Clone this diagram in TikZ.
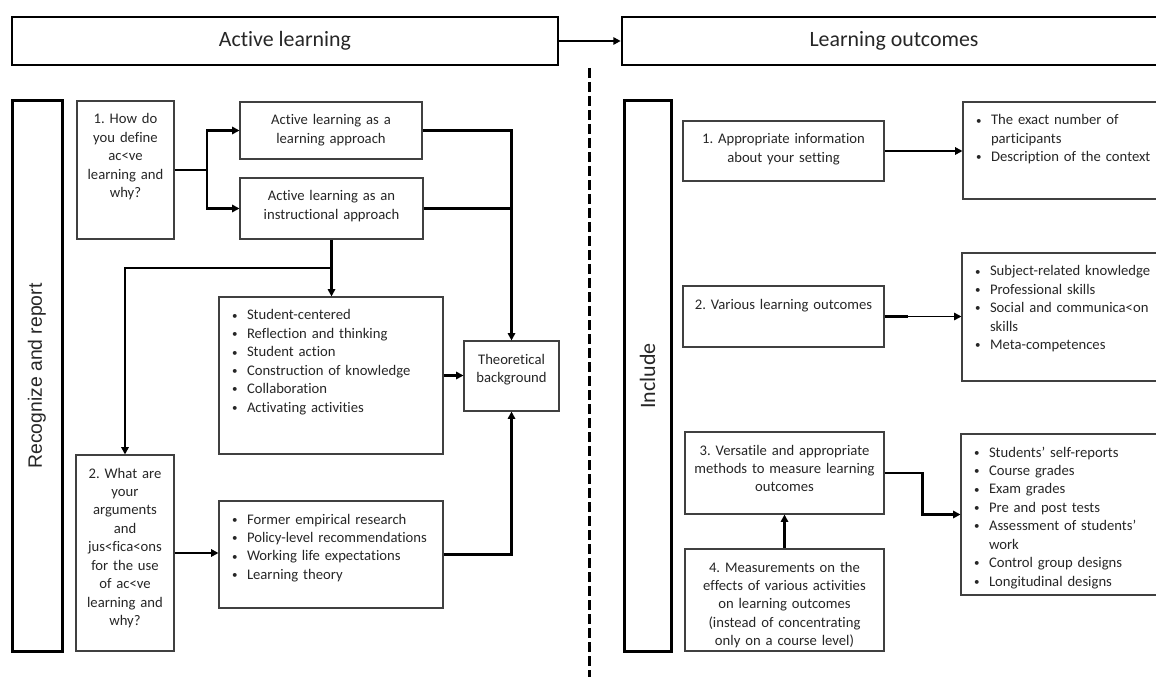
\documentclass[tikz,border=0pt]{standalone}
\usepackage{fontspec}
\setmainfont{Carlito}[RawFeature={-liga,-clig,-calt,-dlig}]
\newfontfamily\sidefont{Liberation Sans}
\usepackage{graphicx}
\usepackage{xcolor}
\usepackage{tikz}
\usetikzlibrary{arrows.meta}
\usetikzlibrary{calc}

\definecolor{boxline}{HTML}{404040}
\definecolor{textdark}{HTML}{262626}
\frenchspacing
\newcommand{\bodysize}{\fontsize{11}{13.85}\selectfont}
\newcommand{\bul}{\makebox[11.25pt][l]{\raisebox{0.7pt}{\scalebox{0.75}{\textbullet}}}}
\newcommand{\hang}{\hspace*{11.25pt}}

\tikzset{
  box/.style={draw=boxline, line width=0.8pt, inner sep=0pt, text height=17.25pt,
    align=center, font=\bodysize, text=textdark},
  listbox/.style={box, align=left, inner xsep=9.75pt},
  headbox/.style={draw=black, line width=2pt, inner sep=0pt, minimum height=36pt,
    font=\fontsize{16.4}{19}\selectfont, text=textdark},
  sidebox/.style={draw=black, line width=2.25pt, inner sep=0pt, rotate=90,
    minimum width=412.5pt, text=textdark},
  conn/.style={draw=black, line width=2pt},
  thinconn/.style={draw=black, line width=1.2pt},
  tip/.style={-{Triangle[length=5.5pt, width=5.5pt]}},
}

\begin{document}
\begin{tikzpicture}[x=0.75pt, y=-0.75pt]
  \useasboundingbox (0,0) rectangle (1156,677);

  % headers
  \node[headbox, minimum width=409.5pt] (al) at (285,41) {Active learning};
  \node[headbox, minimum width=408pt] (lo) at (894,41) {Learning outcomes};
  \draw[conn, line width=1.5pt, tip] (al.east) -- (lo.west);
  \draw[line width=2.25pt, dash pattern=on 7.5pt off 3pt] (589,68) -- (589,677);

  % left half
  \node[sidebox, minimum height=37.5pt, font=\sidefont\fontsize{14.5}{17}\selectfont]
    (recog) at (37,376) {Recognize and report};
  \node[box, text width=72.75pt, text depth=86.25pt] (q1) at (125.5,170)
    {1. How do\\ you define\\ ac<ve\\ learning and\\ why?};
  \node[box, text width=136.5pt, text depth=25.5pt] (appr) at (331,130.5)
    {Active learning as a\\ learning approach};
  \node[box, text width=137.25pt, text depth=28.5pt] (instr) at (331.5,208.5)
    {Active learning as an\\ instructional approach};
  \node[listbox, text width=148.5pt, text depth=100.5pt] (feat) at (331,375.5)
    {\bul Student-centered\\ \bul Reflection and thinking\\ \bul Student action\\
     \bul Construction of knowledge\\ \bul Collaboration\\ \bul Activating activities};
  \node[box, text width=71.25pt, text depth=35.25pt] (theo) at (511.5,376)
    {Theoretical\\ background};
  \node[box, text width=73.5pt, text depth=129.75pt] (q2) at (125,553)
    {2. What are\\ your\\ arguments\\ and\\ jus<fica<ons\\ for the use\\ of ac<ve\\
     learning and\\ why?};
  \node[listbox, text width=148.5pt, text depth=63pt] (why) at (331,554.5)
    {\bul Former empirical research\\ \bul Policy-level recommendations\\
     \bul Working life expectations\\ \bul Learning theory};

  \coordinate (fork) at ($(q1.east)!0.5!(appr.west)$);
  \draw[conn, tip] (q1.east) -- (q1.east -| fork) |- (appr.west);
  \draw[conn, tip] (q1.east -| fork) |- (instr.west);
  \draw[conn, tip] (appr.east) -| (theo.north);
  \draw[conn] (instr.east) -- (instr.east -| theo.north);
  \draw[conn, tip] (instr.south) -- (instr.south |- feat.north);
  \coordinate (split) at ($(instr.south)!0.5!(instr.south |- feat.north)$);
  \draw[conn, tip] (split) -| (q2.north);
  \draw[conn, tip] (feat.east) -- (feat.east -| theo.west);
  \draw[conn, tip] (q2.east) -- (q2.east -| why.west);
  \draw[conn, tip] (why.east) -| (theo.south);

  % right half
  \node[sidebox, minimum height=35.25pt, font=\fontsize{16.5}{19}\selectfont]
    (incl) at (647.5,376) {Include};
  \node[box, text width=150.75pt, text depth=27.75pt] (r1) at (783.5,151)
    {1. Appropriate information\\ about your setting};
  \node[listbox, text width=138pt, text depth=55.5pt] (r1l) at (1068,150.5)
    {\bul The exact number of\\ \hang participants\\ \bul Description of the context};
  \node[box, text width=150.75pt, text depth=28.5pt] (r2) at (783.5,316.5)
    {2. Various learning outcomes};
  \node[listbox, text width=138pt, text depth=78.75pt] (r2l) at (1067,317)
    {\bul Subject-related knowledge\\ \bul Professional skills\\
     \bul Social and communica<on\\ \hang skills\\ \bul Meta-competences};
  \node[box, text width=149.25pt, text depth=44.25pt] (r3) at (784.5,473)
    {3. Versatile and appropriate\\ methods to measure learning\\ outcomes};
  \node[listbox, text width=138pt, text depth=103.5pt] (r3l) at (1066,514.5)
    {\bul Students’ self-reports\\ \bul Course grades\\ \bul Exam grades\\
     \bul Pre and post tests\\ \bul Assessment of students’\\ \hang work\\
     \bul Control group designs\\ \bul Longitudinal designs};
  \node[box, text width=149.25pt, text depth=59.25pt] (r4) at (784.5,600)
    {4. Measurements on the\\ effects of various activities\\ on learning outcomes\\
     (instead of concentrating\\ only on a course level)};

  \draw[conn, tip] (r1.east) -- (r1.east -| r1l.west);
  \draw[conn] (r2.east) -- ++(23,0);
  \draw[thinconn, tip] (r2.east) -- (r2.east -| r2l.west);
  \coordinate (bend) at ($(r3.east)!0.5!(r3l.west)$);
  \draw[conn, tip] (r3.east) -| (bend) |- (r3l.west);
  \draw[conn, tip] (r4.north) -- (r3.south);
\end{tikzpicture}
\end{document}
